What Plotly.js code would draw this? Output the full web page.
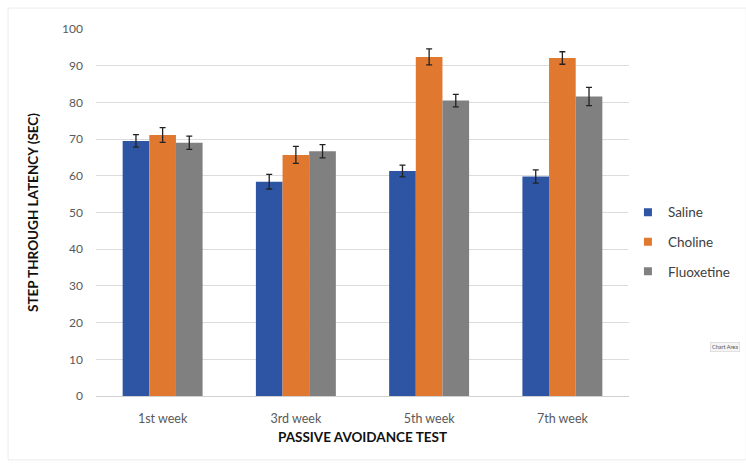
<!DOCTYPE html>
<html>
<head>
<meta charset="utf-8">
<script src="https://cdn.plot.ly/plotly-3.0.1.min.js"></script>
<style>html,body{margin:0;padding:0;background:#fff;}#chart{width:746px;height:469px;}</style>
</head>
<body>
<div id="chart"></div>
<script>
var categories = ["1st week", "3rd week", "5th week", "7th week"];
var salineValues = [69.5, 58.4, 61.3, 59.8];
var salineErrors = [1.7, 2.0, 1.6, 1.8];
var cholineValues = [71.1, 65.7, 92.4, 92.1];
var cholineErrors = [2.0, 2.3, 2.2, 1.7];
var fluoxetineValues = [69.0, 66.7, 80.5, 81.6];
var fluoxetineErrors = [1.8, 1.8, 1.7, 2.5];
var seriesNames = ["Saline", "Choline", "Fluoxetine"];
var yTicks = [0, 10, 20, 30, 40, 50, 60, 70, 80, 90, 100];

var colors = ["#2E55A3", "#E07830", "#808080"];
var vals = [salineValues, cholineValues, fluoxetineValues];
var errs = [salineErrors, cholineErrors, fluoxetineErrors];

var traces = seriesNames.map(function(n, i) {
  return {
    type: "bar",
    name: n,
    x: categories,
    y: vals[i],
    showlegend: false,
    marker: {color: colors[i]},
    error_y: {type: "data", array: errs[i], visible: true, color: "#222", thickness: 1.3, width: 3}
  };
});
// legend entries (small square keys, as in the original)
seriesNames.forEach(function(n, i) {
  traces.push({
    type: "scatter", mode: "markers", name: n, x: [null], y: [null],
    legendgroup: "g" + i,
    marker: {symbol: "square", size: 8, color: colors[i]},
    hoverinfo: "skip"
  });
});

var layout = {
  width: 746, height: 469,
  margin: {l: 96, r: 117, t: 29, b: 73, autoexpand: false},
  paper_bgcolor: "#fff", plot_bgcolor: "#fff",
  font: {family: "Lato, 'Open Sans', sans-serif", color: "#595959", size: 11},
  barmode: "group", bargap: 0.4, bargroupgap: 0,
  showlegend: true,
  legend: {x: 0.998, y: 0.42, xanchor: "left", yanchor: "middle", font: {size: 13.5, color: "#404040"}, tracegroupgap: 9, itemwidth: 30, traceorder: "grouped"},
  xaxis: {
    showgrid: false, showline: false, ticks: "", tickfont: {size: 12.5, color: "#595959"},
    ticklabelstandoff: 13,
    title: {text: "PASSIVE AVOIDANCE TEST", font: {size: 13.5, color: "#111", family: "Lato, sans-serif", weight: "bold"}, standoff: 8}
  },
  yaxis: {
    range: [0, 100], tickvals: yTicks, showgrid: true, gridcolor: "#dcdcdc", gridwidth: 1,
    zeroline: true, zerolinecolor: "#d0d0d0", zerolinewidth: 1, showline: false, ticks: "",
    tickfont: {size: 12, color: "#595959"}, ticklabelstandoff: 12,
    title: {text: "STEP THROUGH LATENCY (SEC)", font: {size: 13.5, color: "#111", family: "Lato, sans-serif", weight: "bold"}, standoff: 20}
  },
  shapes: [{type: "rect", xref: "paper", yref: "paper", x0: -0.165, x1: 1.22, y0: -0.174, y1: 1.057, line: {color: "#ececec", width: 1}}],
  annotations: [{xref: "paper", yref: "paper", x: 1.152, y: 0.12, text: "Chart Area", showarrow: false, xanchor: "left", font: {size: 5.5, color: "#555"}, bgcolor: "#f4f4f4", bordercolor: "#ccc", borderwidth: 0.5, borderpad: 1.5}]
};

Plotly.newPlot("chart", traces, layout, {displayModeBar: false});
</script>
</body>
</html>
